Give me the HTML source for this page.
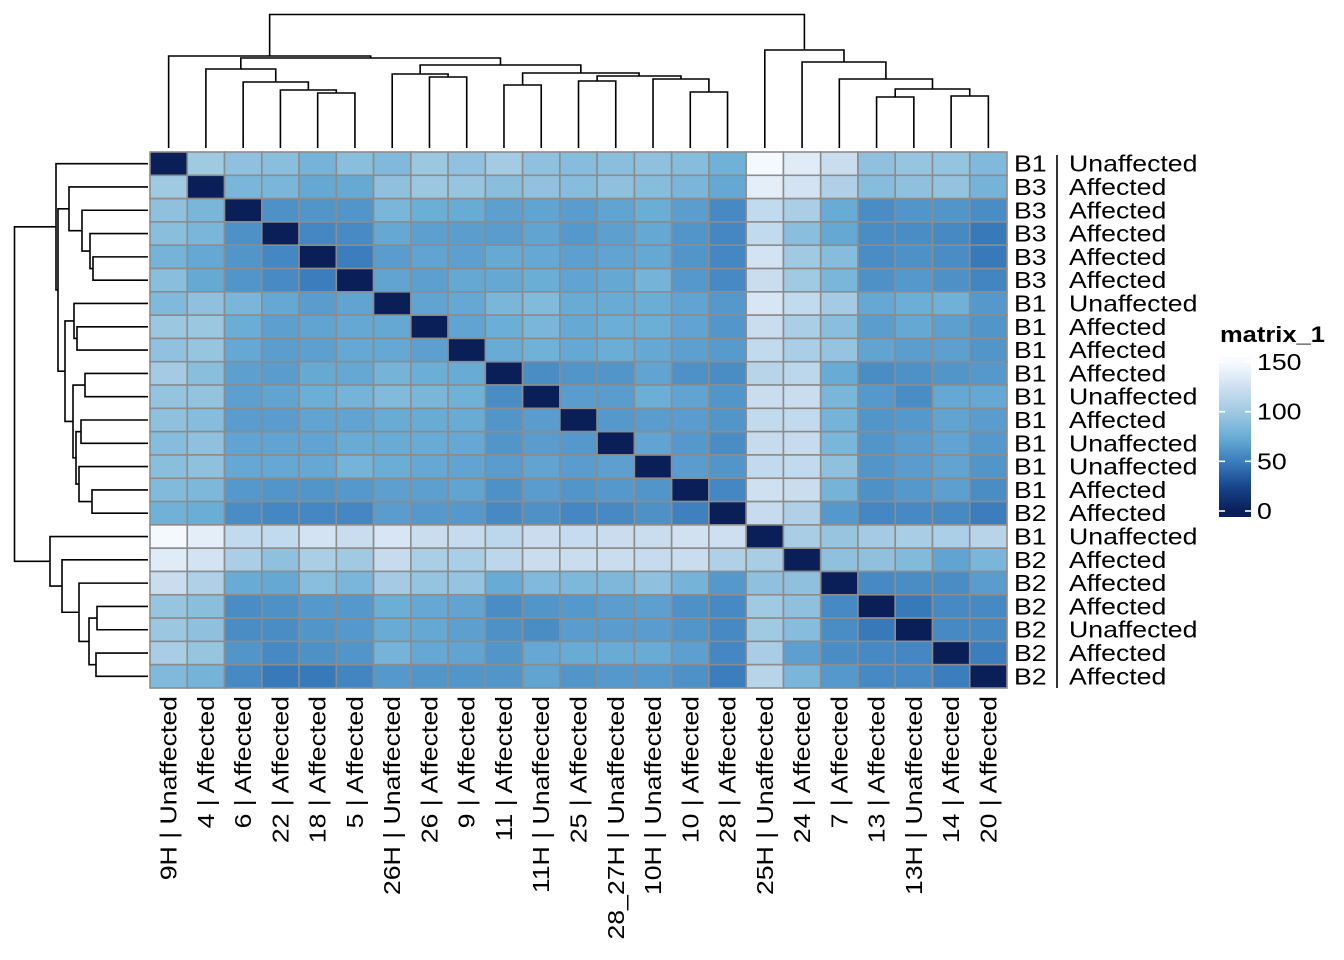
<!DOCTYPE html>
<html><head><meta charset="utf-8">
<style>
html,body{margin:0;padding:0;background:#fff;}
svg{display:block;font-family:"Liberation Sans",Arial,sans-serif;}
</style></head>
<body>
<svg id="chart" width="1344" height="960" viewBox="0 0 1344 960" xmlns="http://www.w3.org/2000/svg">
<g id="dendro-top"></g>
<g id="dendro-left"></g>
<g id="cells"></g>
<g id="rowlabels"></g>
<g id="collabels"></g>
<g id="legend"></g>
</svg>
<script>
const colLabels = ["9H | Unaffected","4 | Affected","6 | Affected","22 | Affected","18 | Affected","5 | Affected","26H | Unaffected","26 | Affected","9 | Affected","11 | Affected","11H | Unaffected","25 | Affected","28_27H | Unaffected","10H | Unaffected","10 | Affected","28 | Affected","25H | Unaffected","24 | Affected","7 | Affected","13 | Affected","13H | Unaffected","14 | Affected","20 | Affected"];
const rowBatch = ["B1","B3","B3","B3","B3","B3","B1","B1","B1","B1","B1","B1","B1","B1","B1","B2","B1","B2","B2","B2","B2","B2","B2"];
const rowStatus = ["Unaffected","Affected","Affected","Affected","Affected","Affected","Unaffected","Affected","Affected","Affected","Unaffected","Affected","Unaffected","Unaffected","Affected","Affected","Unaffected","Affected","Affected","Affected","Unaffected","Affected","Affected"];
const matrix = [
[0,100,92,90,80,90,85,98,93,102,92,88,90,92,88,78,148,135,122,92,96,95,85],
[100,0,82,82,72,73,92,98,96,90,93,88,92,88,82,72,138,128,108,88,92,94,80],
[92,82,0,60,62,62,82,76,74,68,70,66,70,75,67,56,118,105,74,58,62,62,58],
[90,82,60,0,55,57,72,68,67,66,70,64,68,72,62,55,118,90,72,58,58,56,48],
[80,72,62,55,0,50,66,70,68,73,72,68,70,72,62,55,128,100,88,58,60,58,48],
[90,73,62,57,50,0,70,68,72,72,75,70,72,80,64,56,122,100,82,60,64,60,54],
[85,92,82,72,66,70,0,70,72,82,86,74,74,75,70,64,130,118,102,72,76,78,64],
[98,98,75,68,70,72,72,0,70,76,82,73,76,76,70,63,122,105,90,67,72,68,62],
[93,96,72,67,68,72,72,68,0,74,78,72,75,72,68,65,118,105,95,70,67,68,62],
[102,90,68,66,73,72,80,76,74,0,58,62,62,70,60,58,112,115,74,58,60,62,64],
[95,94,68,70,76,80,86,82,78,58,0,66,66,76,70,62,122,122,82,64,58,72,72],
[92,88,66,66,70,70,74,74,74,62,66,0,64,66,66,62,118,118,80,62,64,70,66],
[88,92,70,70,70,74,74,74,72,62,66,64,0,70,64,58,120,120,82,62,66,70,64],
[90,92,72,72,72,80,75,72,70,66,70,66,68,0,66,62,118,118,92,62,66,70,62],
[86,84,64,62,62,64,68,68,70,60,66,62,64,62,0,55,125,122,80,60,64,68,58],
[78,75,58,55,55,55,66,64,64,56,60,55,56,60,52,0,120,108,64,55,56,56,50],
[148,138,118,118,128,122,130,122,120,115,122,120,122,122,126,124,0,104,96,102,104,106,112],
[135,128,105,92,105,100,120,105,105,115,122,122,122,120,122,108,104,0,92,92,86,70,82],
[122,108,74,72,90,82,102,95,95,74,85,84,84,92,80,64,92,92,0,56,58,58,66],
[96,90,58,60,64,64,76,72,70,58,62,64,67,68,60,56,100,92,56,0,48,56,56],
[98,92,58,58,62,64,74,72,68,60,58,66,66,66,62,56,100,88,58,48,0,56,56],
[104,96,62,56,60,62,80,72,70,62,72,74,74,74,68,55,104,68,58,56,55,0,50],
[85,80,56,48,48,54,64,62,62,62,70,62,64,64,60,50,112,82,64,56,56,50,0]
];
// dendrogram merges: leaves 0..22, internal node k => 23+k
const mergeA = [4,3,2,1,7,6,9,11,14,13,30,29,28,26,0,19,21,38,18,17,16,37];
const mergeB = [5,23,24,25,8,27,10,12,15,31,32,33,34,35,36,20,22,39,40,41,42,43];
const mergeH = [93,90,82,69,77,74,85,81,92,79,76,73,65,58,56,97,96,89,79,62,50,14.5];
const legendTicks = [0,50,100,150];

const NS = "http://www.w3.org/2000/svg";
const X0 = 150, X1 = 1007, Y0 = 152, Y1 = 688, N = 23;
const cw = (X1 - X0) / N, ch = (Y1 - Y0) / N;
const LEAF = 148;
const SX = 1.16;
function colX(i){ return X0 + cw * (i + 0.5); }
function rowY(i){ return Y0 + ch * (i + 0.5); }
function mk(tag, attrs, parent){ const e = document.createElementNS(NS, tag); for (const k in attrs) e.setAttribute(k, attrs[k]); parent.appendChild(e); return e; }

const stops = [[0,[10,31,88]],[25,[24,70,140]],[50,[59,125,189]],[75,[106,174,214]],[100,[160,201,226]],[125,[207,224,241]],[150,[247,251,255]]];
function color(v){
  v = Math.max(0, Math.min(150, v));
  for (let i = 0; i < stops.length - 1; i++){
    const [a, ca] = stops[i], [b, cb] = stops[i+1];
    if (v <= b){ const t = (v - a) / (b - a);
      return "rgb(" + ca.map((c,j)=>Math.round(c + (cb[j]-c)*t)).join(",") + ")"; }
  }
  return "rgb(247,251,255)";
}

const gCells = document.getElementById("cells");
for (let r = 0; r < N; r++) for (let c = 0; c < N; c++){
  const el = mk("rect", {x: X0 + c*cw, y: Y0 + r*ch, width: cw, height: ch, fill: color(matrix[r][c]), stroke: "#8c8c8c", "stroke-width": 1.6}, gCells);
  
  
}

function drawDendro(gid, horizontal){
  const g = document.getElementById(gid);
  const pos = [], hgt = [];
  for (let i = 0; i < N; i++){ pos.push(horizontal ? colX(i) : rowY(i)); hgt.push(LEAF); }
  for (let k = 0; k < mergeA.length; k++){
    const a = mergeA[k], b = mergeB[k], h = mergeH[k];
    const pa = pos[a], pb = pos[b];
    let d;
    if (horizontal) d = `M${pa},${hgt[a]}V${h}H${pb}V${hgt[b]}`;
    else d = `M${hgt[a]},${pa}H${h}V${pb}H${hgt[b]}`;
    const el = mk("path", {d: d, fill: "none", stroke: "#000", "stroke-width": 1.6}, g);
    
    
    pos.push((pa + pb) / 2); hgt.push(h);
  }
}
drawDendro("dendro-top", true);
drawDendro("dendro-left", false);

const gRow = document.getElementById("rowlabels");
for (let r = 0; r < N; r++){
  const y = rowY(r) + 8;
  const t1 = mk("text", {x: 0, y: 0, "font-size": 23, fill: "#000", transform: `translate(1014 ${y}) scale(${SX} 1)`}, gRow);
  t1.textContent = rowBatch[r];
  
  
  const t2 = mk("text", {x: 0, y: 0, "font-size": 23, fill: "#000", transform: `translate(1069 ${y}) scale(${SX} 1)`}, gRow);
  t2.textContent = rowStatus[r];
  
  
}
const sep = mk("line", {x1: 1057, y1: Y0 + 3, x2: 1057, y2: Y1, stroke: "#000", "stroke-width": 1.6}, gRow);



const gCol = document.getElementById("collabels");
for (let c = 0; c < N; c++){
  const x = colX(c) + 8, y = 696;
  const t = mk("text", {x: 0, y: 0, "font-size": 23, "text-anchor": "end", transform: `translate(${x} ${y}) rotate(-90) scale(${SX} 1)`, fill: "#000"}, gCol);
  t.textContent = colLabels[c];
  
  
}

const gL = document.getElementById("legend");
const title = mk("text", {x: 0, y: 0, "font-size": 22, "font-weight": "bold", fill: "#000", transform: `translate(1220 342) scale(${SX} 1)`}, gL);
title.textContent = "matrix_1";


const defs = mk("defs", {}, gL);
const grad = mk("linearGradient", {id: "lg", x1: 0, y1: 1, x2: 0, y2: 0}, defs);
for (const [v, c] of stops){ mk("stop", {offset: v/150, "stop-color": "rgb(" + c.join(",") + ")"}, grad); }
const yOf = v => 511 - (v / 150) * 149;
const bar = mk("rect", {x: 1219, y: yOf(150), width: 32, height: yOf(0) - yOf(150), fill: "url(#lg)"}, gL);


mk("rect", {x: 1219, y: yOf(150) - 5, width: 32, height: 5, fill: "rgb(247,251,255)"}, gL);
mk("rect", {x: 1219, y: yOf(0), width: 32, height: 6, fill: "rgb(10,31,88)"}, gL);
for (const v of legendTicks){
  const y = yOf(v);
  mk("line", {x1: 1219, y1: y, x2: 1225, y2: y, stroke: "#fff", "stroke-width": 1.6}, gL);
  mk("line", {x1: 1245, y1: y, x2: 1251, y2: y, stroke: "#fff", "stroke-width": 1.6}, gL);
  const t = mk("text", {x: 0, y: 0, "font-size": 23, fill: "#000", transform: `translate(1257 ${y + 8}) scale(${SX} 1)`}, gL);
  t.textContent = String(v);
  
  
}
</script>
</body></html>
